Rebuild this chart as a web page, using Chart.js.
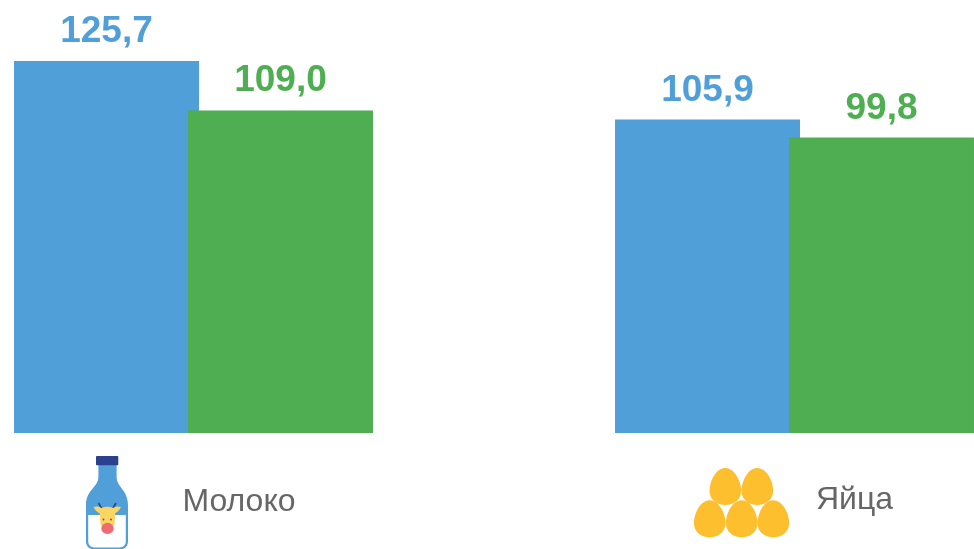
<!DOCTYPE html>
<html lang="ru">
<head>
<meta charset="utf-8">
<style>
html,body{margin:0;padding:0;background:#fff;width:974px;height:549px;overflow:hidden}
#wrap{position:relative;width:974px;height:549px}
canvas{position:absolute;left:0;top:0}
svg{position:absolute;left:0;top:0}
</style>
<script src="https://cdn.jsdelivr.net/npm/chart.js@4"></script>
</head>
<body>
<div id="wrap">
<canvas id="c" width="974" height="549"></canvas>
<svg width="974" height="549" viewBox="0 0 974 549" xmlns="http://www.w3.org/2000/svg">
  <defs>
    <clipPath id="pageClip"><rect x="0" y="0" width="974" height="549"/></clipPath>
    <path id="egg" d="M0,-18.6 C6,-18.6 11,-13 13.5,-6.5 C15,-3 15.8,1 15.8,4.5 C15.8,13 8.5,18.6 0,18.6 C-8.5,18.6 -15.8,13 -15.8,4.5 C-15.8,1 -15,-3 -13.5,-6.5 C-11,-13 -6,-18.6 0,-18.6Z"/>
  </defs>
  <g clip-path="url(#pageClip)">
    <path d="M98.4,464 L116.6,464 L116.6,477 C116.6,487 128,490 128,505 L128,541 C128,547 124,549.5 119,549.5 L95,549.5 C90,549.5 86,547 86,541 L86,505 C86,490 98.4,487 98.4,477Z" fill="#519fd9"/>
    <path d="M88.2,515 L125.8,515 L125.8,541 C125.8,545.5 123,547.5 119,547.5 L95,547.5 C91,547.5 88.2,545.5 88.2,541Z" fill="#fff"/>
    <rect x="96" y="456" width="22.3" height="9.3" rx="0.8" fill="#2b4190"/>
    <path d="M98.5,503 L102.5,510 M116,503 L112,510" stroke="#2b4190" stroke-width="1.6" fill="none"/>
    <path d="M93.5,507 C98,505.5 101,507 103.5,510 L101,514 C98,513 95,510 93.5,507Z M121,507 C116.5,505.5 113.5,507 111,510 L113.5,514 C116.5,513 119.5,510 121,507Z" fill="#fcd462"/>
    <path d="M99.5,510 C102,505.5 112.5,505.5 115.5,510 L114.5,524 C113,529 101.5,529 100.5,524Z" fill="#fcd462"/>
    <circle cx="103.5" cy="519.5" r="0.9" fill="#555"/>
    <circle cx="111" cy="519.5" r="0.9" fill="#555"/>
    <ellipse cx="107.5" cy="528.4" rx="6.2" ry="5.6" fill="#ee6b70"/>
    <g fill="#fdbf2d">
      <use href="#egg" x="725.3" y="486.5"/>
      <use href="#egg" x="757.3" y="486.5"/>
      <use href="#egg" x="709.7" y="518.8"/>
      <use href="#egg" x="741.7" y="518.8"/>
      <use href="#egg" x="773.3" y="518.8"/>
    </g>
  </g>
</svg>
</div>
<script>
const categories = ["Молоко", "Яйца"];
const seriesBlue = [125.7, 105.9];
const seriesGreen = [109.0, 99.8];
const valueLabelsBlue = ["125,7", "105,9"];
const valueLabelsGreen = ["109,0", "99,8"];

const BLUE = "#519fd9", GREEN = "#4fae52", GREY = "#666666";
const toPoints = arr => arr.map((v, i) => ({x: i, y: v}));

const overlay = {
  id: "overlay",
  beforeDatasetDraw(chart, args) {
    if (args.index === 1) return false;
  },
  afterDatasetsDraw(chart) {
    const ctx = chart.ctx;
    chart.getDatasetMeta(1).controller.draw();
    ctx.save();
    ctx.textAlign = "center";
    ctx.textBaseline = "alphabetic";
    ctx.font = "bold 37px 'Liberation Sans', Arial, sans-serif";
    [[0, valueLabelsBlue, BLUE], [1, valueLabelsGreen, GREEN]].forEach(([d, labels, col]) => {
      ctx.fillStyle = col;
      chart.getDatasetMeta(d).data.forEach((el, i) => ctx.fillText(labels[i], el.x, el.y - 19));
    });
    ctx.font = "32px 'Liberation Sans', Arial, sans-serif";
    ctx.fillStyle = GREY;
    ctx.fillText(categories[0], chart.scales.x.getPixelForValue(0) + 45.5, 511);
    ctx.fillText(categories[1], chart.scales.x.getPixelForValue(1) + 60, 509);
    ctx.restore();
  }
};

new Chart(document.getElementById("c"), {
  type: "bar",
  data: {
    datasets: [
      {label: "Синий", data: toPoints(seriesBlue), backgroundColor: BLUE, borderWidth: 0},
      {label: "Зелёный", data: toPoints(seriesGreen), backgroundColor: GREEN, borderWidth: 0}
    ]
  },
  options: {
    responsive: false,
    animation: false,
    events: [],
    categoryPercentage: 0.5790,
    barPercentage: 1.0632,
    layout: {padding: {left: 0, right: 0, top: 0, bottom: 116}},
    plugins: {legend: {display: false}, tooltip: {enabled: false}, title: {display: false}},
    scales: {
      x: {
        type: "linear",
        display: false,
        offset: false,
        min: -193.5 / 601,
        max: 780.5 / 601,
        afterBuildTicks(s) { s.ticks = categories.map((_, i) => ({value: i})); }
      },
      y: {display: false, min: 0, max: 146.3}
    }
  },
  plugins: [overlay]
});
</script>
</body>
</html>
